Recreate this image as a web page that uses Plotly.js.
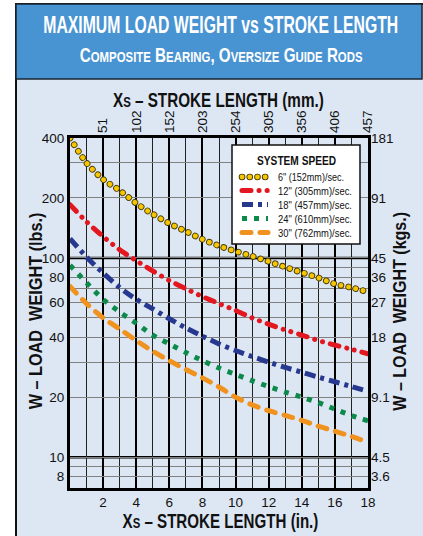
<!DOCTYPE html>
<html><head><meta charset="utf-8">
<script src="https://cdn.plot.ly/plotly-3.0.1.min.js"></script>
<style>html,body{margin:0;padding:0;background:#fff;overflow:hidden;} #chart{width:423px;height:536px;}</style>
</head><body><div id="chart"></div>
<script>
// ---- data ----
const strokeIn = [0,1,2,3,4,5,6,7,8,9,10,11,12,13,14,15,16,17,18];
const speed6  = [400,300,248,218,188,166,149,136,124,115,108,102,96,90,84.5,79.5,74,71,67.5];
const speed12 = [185,152,128,110,97,86,77,70,64,59,54.5,50,46.5,43.5,41,38.5,36.5,34.8,33];
const speed18 = [125,101,84,71,62,55.5,49.5,44.5,40.5,37,34.3,32,30,28.2,26.7,25.2,23.9,22.6,21.4];
const speed24 = [92,75,62,53.5,47,41,37,33.5,30.5,28,26,24.2,22.6,21.2,20,18.8,17.4,16.2,15.2];
const speed30 = [72,59,50,44,38.5,34,30.5,27.5,25,22.5,20,18.3,17.1,16.2,15.3,14.3,13.5,12.7,11.9];
const speedNames = ['6" (152mm)/sec.','12" (305mm)/sec.','18" (457mm)/sec.','24" (610mm)/sec.','30" (762mm)/sec.'];
const inTicks = [2,4,6,8,10,12,14,16,18];
const inMinor = [1,3,5,7,9,11,13,15,17];
const mmLabels = ['51','102','152','203','254','305','356','406','457'];
const lbsTicks = [400,200,100,80,60,40,20,10,8];
const kgLabels = ['181','91','45','36','27','18','9.1','4.5','3.6'];
const lbsMinorGrid = [300,90,70,50,30,9];
const lbsHeavyGrid = [100,10];
const yMin = 7, yMax = 400;

// ---- styles ----
const SANS = "'Liberation Sans',Arial,Helvetica,sans-serif";
const styles = [
  {color:'#f7c600', width:4.8, dash:'0.1px,7.6px', cap:'round', outline:'#4a3a00'},
  {color:'#e3171f', width:5,   dash:'9px,8px,0.1px,8px,0.1px,8px', cap:'round'},
  {color:'#27388f', width:5,   dash:'11px,5px,4px,5px', cap:'butt'},
  {color:'#0b8a4a', width:5,   dash:'5px,7px', cap:'butt'},
  {color:'#f0921e', width:5,   dash:'9px,9px', cap:'round'}
];
const series = [speed6, speed12, speed18, speed24, speed30];

const traces = [];
const traceCaps = [];
traces.push({x:strokeIn, y:speed6, mode:'lines', hoverinfo:'skip', showlegend:false,
  line:{color:styles[0].outline, width:6.6, dash:styles[0].dash, shape:'spline', smoothing:0.8}});
traceCaps.push('round');
series.forEach((s,i)=>{
  traces.push({x:strokeIn, y:s, mode:'lines', name:speedNames[i], showlegend:false, hoverinfo:'skip',
    line:{color:styles[i].color, width:styles[i].width, dash:styles[i].dash, shape:'spline', smoothing:0.8}});
  traceCaps.push(styles[i].cap);
});
// invisible helper so the mm / kg axes get drawn
traces.push({x:strokeIn, y:speed30, xaxis:'x2', yaxis:'y2', mode:'lines', opacity:0, hoverinfo:'skip', showlegend:false,
  line:{width:0.1, color:'rgba(0,0,0,0)'}});
traceCaps.push('butt');

// pixel helpers for layout placement
const L=70, R=55, T=138, B=48, W=423, H=536;
const pw=W-L-R, ph=H-T-B;
const px = v => (v-L)/pw;
const py = v => (H-B-v)/ph;

const shapes = [];
const shapeCaps = [];
function addShape(s, cap){ shapes.push(s); shapeCaps.push(cap||null); }
addShape({type:'rect', xref:'paper', yref:'paper', x0:px(16), x1:px(440), y0:py(4), y1:py(560),
  fillcolor:'#dde7f4', line:{color:'#111', width:2}, layer:'below'});
addShape({type:'rect', xref:'paper', yref:'paper', x0:px(16), x1:px(422), y0:py(4), y1:py(79),
  fillcolor:'#4893d2', line:{color:'#1b2530', width:1.5}, layer:'below'});
lbsHeavyGrid.forEach(v=>addShape({type:'line', xref:'x', yref:'y', x0:0, x1:18, y0:v, y1:v,
  line:{color:'#000', width:2.5}, layer:'below'}));
addShape({type:'rect', xref:'paper', yref:'paper', x0:px(232), x1:px(360), y0:py(145), y1:py(244),
  fillcolor:'#fff', line:{color:'#111', width:1.5}, layer:'above'});
const legY = [177,190.5,204.5,218.5,232.5];
addShape({type:'line', xref:'paper', yref:'paper', x0:px(242), x1:px(268), y0:py(legY[0]), y1:py(legY[0]),
  line:{color:styles[0].outline, width:6.6, dash:styles[0].dash}, layer:'above'}, 'round');
styles.forEach((st,i)=>addShape({type:'line', xref:'paper', yref:'paper', x0:px(242), x1:px(268), y0:py(legY[i]), y1:py(legY[i]),
  line:{color:st.color, width:st.width, dash:st.dash}, layer:'above'}, st.cap));

const sc = t => `<span style="font-size:15px">${t}</span>`;
// targetW: widths of the texts in the reference (condensed face emulation)
const annotations = [
  {text:'MAXIMUM LOAD WEIGHT vs STROKE LENGTH', x:px(221), y:py(25), font:{family:SANS, size:23, color:'#fff', weight:'bold'}, targetW:355},
  {text:'C'+sc('OMPOSITE')+' B'+sc('EARING')+', O'+sc('VERSIZE')+' G'+sc('UIDE')+' R'+sc('ODS'), x:px(221), y:py(55), font:{family:SANS, size:20, color:'#fff', weight:'bold'}, targetW:283},
  {text:'X<span style="font-size:15px">S</span> – STROKE LENGTH (mm.)', x:px(218), y:py(100), font:{family:SANS, size:20, color:'#111', weight:'bold'}, targetW:211},
  {text:'X<span style="font-size:15px">S</span> – STROKE LENGTH (in.)', x:px(220), y:py(521), font:{family:SANS, size:20, color:'#111', weight:'bold'}, targetW:196},
  {text:'W – LOAD  WEIGHT (lbs.)', x:px(35), y:py(311), textangle:-90, font:{family:SANS, size:19, color:'#111', weight:'bold'}, targetW:197},
  {text:'W – LOAD  WEIGHT (kgs.)', x:px(399), y:py(312), textangle:-90, font:{family:SANS, size:19, color:'#111', weight:'bold'}, targetW:199},
  {text:'SYSTEM SPEED', x:px(296), y:py(160), font:{family:SANS, size:13, color:'#111', weight:'bold'}, targetW:79}
].map(a=>Object.assign({xref:'paper', yref:'paper', showarrow:false, xanchor:'center', yanchor:'middle', origin:'center'}, a));
const legW = [66,74,74,74,74];
speedNames.forEach((n,i)=>annotations.push({text:n, xref:'paper', yref:'paper', x:px(276), y:py(legY[i]),
  xanchor:'left', yanchor:'middle', showarrow:false, font:{family:SANS, size:11.5, color:'#111'}, targetW:legW[i], origin:'left center'}));
const targets = annotations.map(a=>({w:a.targetW, o:a.origin}));
annotations.forEach(a=>{ delete a.targetW; delete a.origin; });

const tickFont = {family:SANS, size:13.5, color:'#111'};
const layout = {
  width:W, height:H, margin:{l:L, r:R, t:T, b:B},
  paper_bgcolor:'#fff', plot_bgcolor:'#fff', showlegend:false,
  xaxis:{range:[0,18], tickmode:'array', tickvals:inTicks, ticktext:inTicks.map(String),
    showgrid:true, gridcolor:'#000', gridwidth:2, zeroline:false,
    minor:{tickmode:'array', tickvals:inMinor, showgrid:true, gridcolor:'#222', gridwidth:1, ticks:''},
    showline:true, linecolor:'#000', linewidth:3, mirror:true, ticks:'', tickfont:tickFont},
  xaxis2:{overlaying:'x', anchor:'y2', side:'top', range:[0,18], tickmode:'array', tickvals:inTicks, ticktext:mmLabels,
    tickangle:-90, ticklabelstandoff:4, showgrid:false, zeroline:false, showline:false, ticks:'', tickfont:tickFont},
  yaxis:{type:'log', range:[Math.log10(yMin), Math.log10(yMax)], tickmode:'array', tickvals:lbsTicks, ticktext:lbsTicks.map(String),
    showgrid:true, gridcolor:'#808080', gridwidth:1, zeroline:false,
    minor:{tickmode:'array', tickvals:lbsMinorGrid, showgrid:true, gridcolor:'#808080', gridwidth:1, ticks:''},
    showline:true, linecolor:'#000', linewidth:3, mirror:true, ticks:'', tickfont:tickFont},
  yaxis2:{overlaying:'y', anchor:'x2', side:'right', type:'log', range:[Math.log10(yMin), Math.log10(yMax)], tickmode:'array',
    tickvals:lbsTicks, ticktext:kgLabels, ticklabelstandoff:2, showgrid:false, zeroline:false, showline:false, ticks:'', tickfont:tickFont},
  shapes:shapes, annotations:annotations
};

const gd = document.getElementById('chart');
Plotly.newPlot(gd, traces, layout, {staticPlot:true, displayModeBar:false}).then(()=>{
  gd.querySelectorAll('.scatterlayer .trace').forEach((g,i)=>{
    g.querySelectorAll('path.js-line').forEach(p=>{ if(traceCaps[i]) p.style.strokeLinecap = traceCaps[i]; });
  });
  gd.querySelectorAll('.shapelayer path').forEach(p=>{
    const idx = +p.getAttribute('data-index');
    if(shapeCaps[idx]) p.style.strokeLinecap = shapeCaps[idx];
  });
  gd.querySelectorAll('g.annotation').forEach(g=>{
    const idx = +g.getAttribute('data-index');
    const t = g.querySelector('text.annotation-text');
    const tg = targets[idx];
    if(!t || !tg || !tg.w) return;
    const w = t.getBBox().width;
    if(w > 0){
      t.style.transformBox = 'fill-box';
      t.style.transformOrigin = tg.o;
      t.style.transform = `scaleX(${(tg.w / w).toFixed(4)})`;
    }
  });
});
</script></body></html>
